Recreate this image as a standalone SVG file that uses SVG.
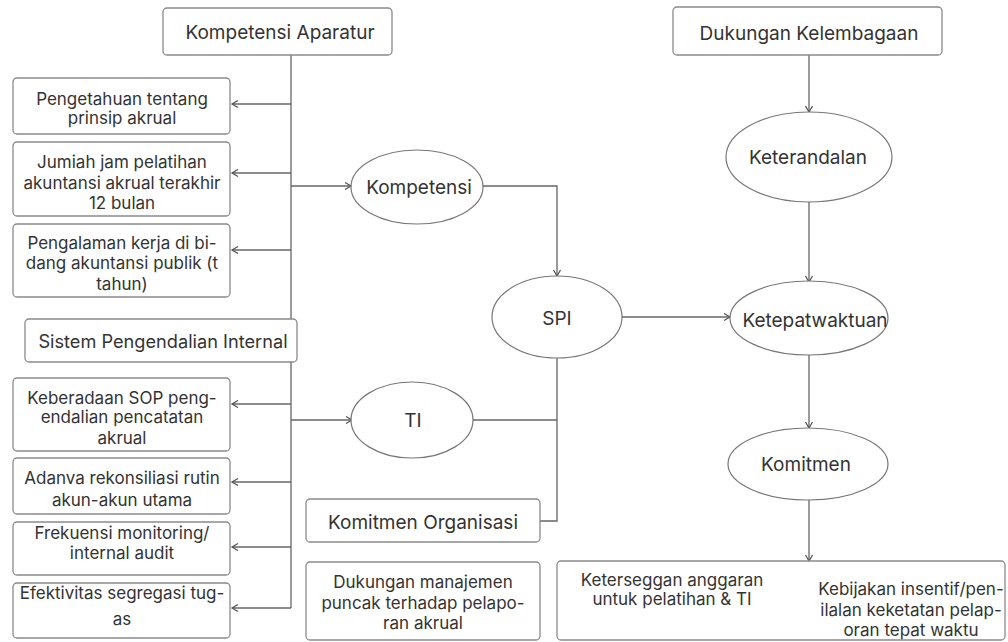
<svg xmlns="http://www.w3.org/2000/svg" width="1008" height="642" viewBox="0 0 1008 642">
<defs>
<marker id="arr" markerWidth="10" markerHeight="10" refX="8" refY="5" orient="auto" markerUnits="userSpaceOnUse">
<path d="M2,1.5 L8,5 L2,8.5" fill="none" stroke="#555" stroke-width="1.3"/>
</marker>
<style>
.bx{fill:#fff;stroke:#8a8a8a;stroke-width:1.3}
.el{fill:#fff;stroke:#777;stroke-width:1.2}
.ln{fill:none;stroke:#666;stroke-width:1.3}
.ar{fill:none;stroke:#666;stroke-width:1.3;marker-end:url(#arr)}
text{font-family:Inter,"Liberation Sans",sans-serif;fill:#333;text-anchor:middle}
.h{font-size:19px}
.t{font-size:17px}
.e{font-size:19px}
</style>
</defs>
<rect width="1008" height="642" fill="#fff"/>
<g id="connectors">
<path class="ln" d="M291,55 V608"/>
<path class="ar" d="M291,608 H232"/>
<path class="ar" d="M291,104 H232"/>
<path class="ar" d="M291,173 H232"/>
<path class="ar" d="M291,250 H232"/>
<path class="ar" d="M291,404 H232"/>
<path class="ar" d="M291,482 H232"/>
<path class="ar" d="M291,547 H232"/>
<path class="ar" d="M291,186 H351"/>
<path class="ar" d="M291,420 H352"/>
<path class="ar" d="M483,186 H557 V276"/>
<path class="ln" d="M557,358 V521 H540"/>
<path class="ln" d="M473,420 H557"/>
<path class="ar" d="M622,317 H730"/>
<path class="ar" d="M809,55 V112"/>
<path class="ar" d="M809,202 V282"/>
<path class="ar" d="M809,355 V428"/>
<path class="ar" d="M809,500 V561"/>
</g>
<g id="kompetensi-aparatur"><rect class="bx" x="163" y="8" width="229" height="47" rx="4"/><text class="h" x="280" y="39">Kompetensi Aparatur</text></g>
<g id="pengetahuan"><rect class="bx" x="13" y="78" width="217" height="56" rx="4"/><text class="t" x="122" y="105">Pengetahuan tentang</text><text class="t" x="122" y="124">prinsip akrual</text></g>
<g id="jumlah-jam"><rect class="bx" x="13" y="142" width="217" height="74" rx="4"/><text class="t" x="122" y="168">Jumiah jam pelatihan</text><text class="t" x="122" y="189">akuntansi akrual terakhir</text><text class="t" x="122" y="209">12 bulan</text></g>
<g id="pengalaman"><rect class="bx" x="13" y="224" width="217" height="73" rx="4"/><text class="t" x="122" y="249">Pengalaman kerja di bi-</text><text class="t" x="122" y="269">dang akuntansi publik (t</text><text class="t" x="122" y="290">tahun)</text></g>
<g id="sistem-pengendalian"><rect class="bx" x="25" y="319" width="272" height="43" rx="4"/><text class="h" x="163" y="348" style="font-size:18.2px">Sistem Pengendalian Internal</text></g>
<g id="keberadaan-sop"><rect class="bx" x="13" y="378" width="217" height="73" rx="4"/><text class="t" x="122" y="404">Keberadaan SOP peng-</text><text class="t" x="122" y="423">endalian pencatatan</text><text class="t" x="122" y="444">akrual</text></g>
<g id="rekonsiliasi"><rect class="bx" x="13" y="458" width="217" height="56" rx="4"/><text class="t" x="122" y="484">Adanva rekonsiliasi rutin</text><text class="t" x="122" y="506">akun-akun utama</text></g>
<g id="frekuensi"><rect class="bx" x="13" y="522" width="217" height="53" rx="4"/><text class="t" x="122" y="539">Frekuensi monitoring/</text><text class="t" x="122" y="559">internal audit</text></g>
<g id="efektivitas"><rect class="bx" x="13" y="583" width="217" height="55" rx="4"/><text class="t" x="122" y="599">Efektivitas segregasi tug-</text><text class="t" x="122" y="625">as</text></g>
<g id="kompetensi"><ellipse class="el" cx="417" cy="187" rx="66" ry="37"/><text class="e" x="419" y="194">Kompetensi</text></g>
<g id="ti"><ellipse class="el" cx="412" cy="420" rx="61" ry="38"/><text class="e" x="413" y="427">TI</text></g>
<g id="spi"><ellipse class="el" cx="557" cy="317" rx="65" ry="41"/><text class="e" x="557" y="325">SPI</text></g>
<g id="komitmen-organisasi"><rect class="bx" x="306" y="499" width="234" height="43" rx="4"/><text class="h" x="423" y="529">Komitmen Organisasi</text></g>
<g id="dukungan-manajemen"><rect class="bx" x="306" y="562" width="234" height="78" rx="4"/><text class="t" x="423" y="588">Dukungan manajemen</text><text class="t" x="423" y="609">puncak terhadap pelapo-</text><text class="t" x="423" y="629">ran akrual</text></g>
<g id="dukungan-kelembagaan"><rect class="bx" x="673" y="7" width="269" height="48" rx="4"/><text class="h" x="809" y="40">Dukungan Kelembagaan</text></g>
<g id="keterandalan"><ellipse class="el" cx="809" cy="157" rx="83" ry="45"/><text class="e" x="808" y="164">Keterandalan</text></g>
<g id="ketepatwaktuan"><ellipse class="el" cx="809" cy="318" rx="79" ry="37"/><text class="e" x="815" y="327">Ketepatwaktuan</text></g>
<g id="komitmen"><ellipse class="el" cx="808" cy="464" rx="80" ry="36"/><text class="e" x="806" y="471">Komitmen</text></g>
<g id="dukungan-bawah"><rect class="bx" x="557" y="561" width="448" height="79" rx="4"/><text class="t" x="672" y="586">Keterseggan anggaran</text><text class="t" x="672" y="605">untuk pelatihan &amp; TI</text><text class="t" x="911" y="595">Kebijakan insentif/pen-</text><text class="t" x="911" y="616">ilalan keketatan pelap-</text><text class="t" x="911" y="636">oran tepat waktu</text></g>
</svg>
